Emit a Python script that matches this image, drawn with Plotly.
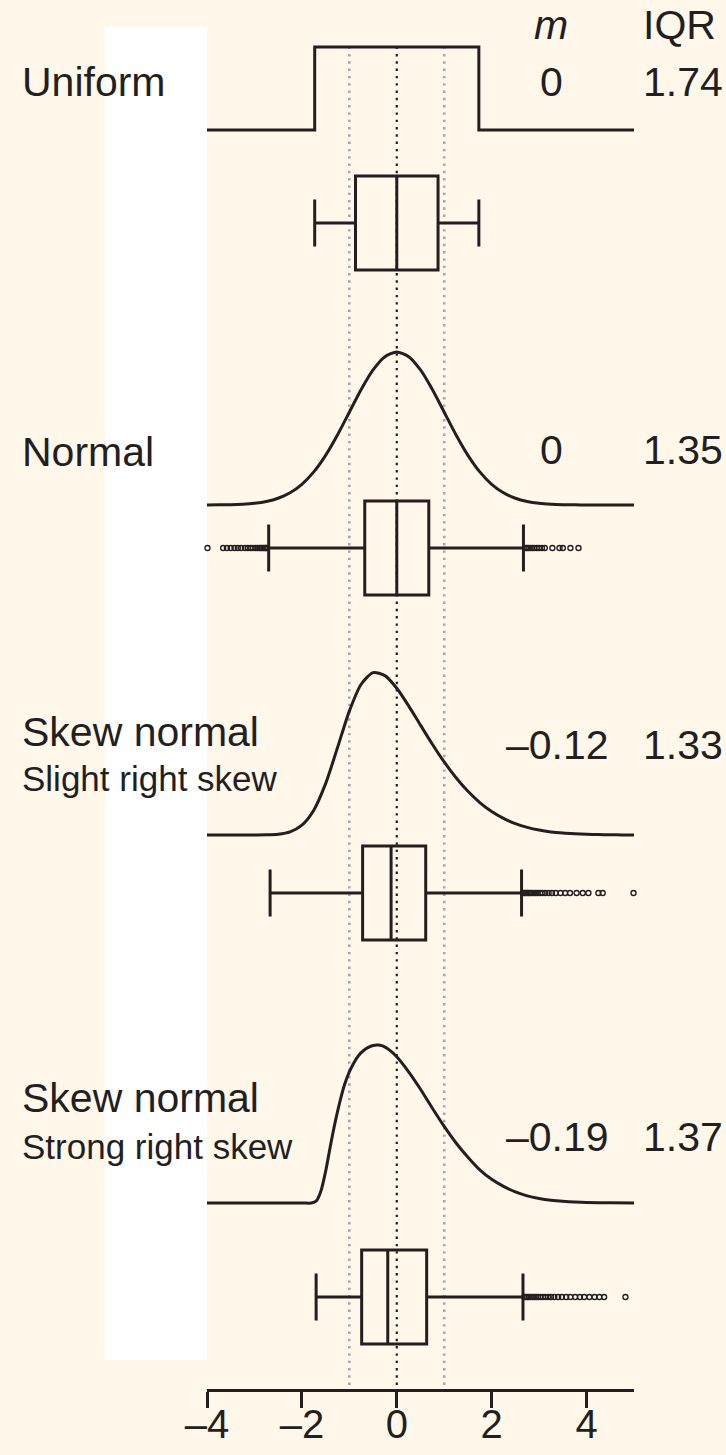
import plotly.graph_objects as go

W, H = 726, 1455
INK = "#231F20"
GREY = "#A7A9AC"
CREAM = "#FEF7EA"
FONT = "Liberation Sans, Arial, Helvetica, sans-serif"

# ---- data -------------------------------------------------------------
x_grid = [-4.0, -3.75, -3.5, -3.25, -3.0, -2.75, -2.5, -2.25, -2.0, -1.75,
          -1.5, -1.25, -1.0, -0.75, -0.5, -0.25, 0.0, 0.25, 0.5, 0.75,
          1.0, 1.25, 1.5, 1.75, 2.0, 2.25, 2.5, 2.75, 3.0, 3.25,
          3.5, 3.75, 4.0, 4.25, 4.5, 4.75, 5.0]

# densities, scaled so that each curve peaks at 1
uniform_x = [-4.0, -1.73, -1.73, 1.73, 1.73, 5.0]
uniform_d = [0.0, 0.0, 1.0, 1.0, 0.0, 0.0]

normal_d = [0.0003, 0.0009, 0.0022, 0.0051, 0.0111, 0.0228, 0.0439, 0.0796, 0.1353, 0.2163,
            0.3247, 0.4578, 0.6065, 0.7548, 0.8825, 0.9692, 1.0, 0.9692, 0.8825, 0.7548,
            0.6065, 0.4578, 0.3247, 0.2163, 0.1353, 0.0796, 0.0439, 0.0228, 0.0111, 0.0051,
            0.0022, 0.0009, 0.0003, 0.0001, 0.0, 0.0, 0.0]

slight_d = [0.0, 0.0, 0.0, 0.0, 0.0001, 0.0008, 0.0045, 0.019, 0.060, 0.152,
            0.315, 0.535, 0.760, 0.925, 0.996, 0.978, 0.900, 0.792, 0.674, 0.557,
            0.448, 0.351, 0.268, 0.199, 0.144, 0.1015, 0.0696, 0.0465, 0.0302, 0.0191,
            0.0118, 0.0071, 0.0041, 0.0024, 0.0013, 0.0007, 0.0004]

strong_x = [-4.0, -2.0, -1.8, -1.7, -1.6, -1.5, -1.4, -1.3, -1.2, -1.1,
            -1.0, -0.9, -0.8, -0.7, -0.6, -0.5, -0.4, -0.3, -0.2, -0.1,
            0.0, 0.25, 0.5, 0.75, 1.0, 1.25, 1.5, 1.75, 2.0, 2.25,
            2.5, 2.75, 3.0, 3.25, 3.5, 3.75, 4.0, 4.5, 5.0]
strong_d = [0.0, 0.0, 0.0, 0.012, 0.075, 0.20, 0.36, 0.51, 0.64, 0.75,
            0.83, 0.89, 0.935, 0.965, 0.985, 0.997, 1.0, 0.994, 0.978, 0.955,
            0.925, 0.83, 0.72, 0.60, 0.485, 0.38, 0.29, 0.21, 0.15, 0.105,
            0.07, 0.045, 0.029, 0.018, 0.011, 0.0065, 0.0038, 0.0012, 0.0004]

# box-plot summaries: q1, median, q3, lower whisker, upper whisker
uniform_box = [-0.87, 0.0, 0.87, -1.73, 1.73]
normal_box = [-0.675, 0.0, 0.675, -2.70, 2.67]
slight_box = [-0.72, -0.12, 0.61, -2.67, 2.63]
strong_box = [-0.74, -0.19, 0.63, -1.70, 2.66]

uniform_out = []
normal_out = [-3.99, -3.66, -3.58, -3.5, -3.42, -3.35, -3.28, -3.2, -3.14, -3.08, -3.03,
              -2.98, -2.94, -2.9, -2.87, -2.84, -2.81, -2.78, -2.76, -2.74,
              2.72, 2.75, 2.78, 2.82, 2.86, 2.9, 2.95, 3.0, 3.06, 3.12, 3.28, 3.43, 3.5, 3.66, 3.83]
slight_out = [2.66, 2.69, 2.72, 2.75, 2.78, 2.81, 2.85, 2.89, 2.93, 2.97, 3.02, 3.07, 3.13,
              3.2, 3.27, 3.35, 3.45, 3.55, 3.65, 3.79, 3.92, 4.04, 4.25, 4.34, 4.99]
strong_out = [2.69, 2.72, 2.75, 2.78, 2.82, 2.86, 2.9, 2.94, 2.98, 3.03, 3.08, 3.13,
              3.19, 3.25, 3.32, 3.4, 3.48, 3.57, 3.66, 3.76, 3.86, 3.95, 4.06, 4.17, 4.27, 4.37, 4.82]

names = ["Uniform", "Normal", "Skew normal", "Skew normal"]
subtitles = ["", "", "Slight right skew", "Strong right skew"]
m_labels = ["0", "0", "\u20130.12", "\u20130.19"]
iqr_labels = ["1.74", "1.35", "1.33", "1.37"]

tick_vals = [-4, -2, 0, 2, 4]
tick_text = ["\u20134", "\u20132", "0", "2", "4"]

# ---- layout geometry (pixels from the top of the page) ----------------
def py(px):
    return 1 - px / H

# density baseline / peak rows, box-plot centre rows
dens_rows = [(130, 47), (505, 352), (835, 672), (1203, 1045)]
box_rows = [223, 548, 893, 1297]
BOX_PX = 94          # box height in pixels (box width = 1 y-unit)
label_rows = [82, 452, 732, 1098]
sub_rows = [None, None, 778, 1146]
num_rows = [82, 450, 745, 1137]
M_COL, IQR_COL = 551, 641

fig = go.Figure()
layout_axes = {}

dens_sets = [(uniform_x, uniform_d, "linear"), (x_grid, normal_d, "spline"),
             (x_grid, slight_d, "spline"), (strong_x, strong_d, "spline")]
box_sets = [(uniform_box, uniform_out), (normal_box, normal_out),
            (slight_box, slight_out), (strong_box, strong_out)]

PAD = 0.08
for i in range(4):
    dy = 2 * i + 1
    by = 2 * i + 2
    dname = "y" if dy == 1 else f"y{dy}"
    bname = f"y{by}"
    xs, ds, shape = dens_sets[i]
    fig.add_trace(go.Scatter(x=xs, y=ds, mode="lines",
                             line=dict(color=INK, width=3, shape=shape, smoothing=0.7),
                             xaxis="x", yaxis=dname, hoverinfo="skip", showlegend=False))
    base, peak = dens_rows[i]
    h = base - peak
    layout_axes["yaxis" if dy == 1 else f"yaxis{dy}"] = dict(
        domain=[py(base + PAD * h), py(peak - PAD * h)], range=[-PAD, 1 + PAD],
        anchor="x", visible=False, fixedrange=True, automargin=False)

    stats, outs = box_sets[i]
    q1, med, q3, lo, hi = stats
    fig.add_trace(go.Box(orientation="h", y=[0], q1=[q1], median=[med], q3=[q3],
                         lowerfence=[lo], upperfence=[hi], width=1, whiskerwidth=0.5,
                         boxpoints=False, fillcolor="rgba(0,0,0,0)",
                         line=dict(color=INK, width=3),
                         xaxis="x", yaxis=bname, hoverinfo="skip", showlegend=False))
    if outs:
        fig.add_trace(go.Scatter(x=outs, y=[0] * len(outs), mode="markers",
                                 marker=dict(symbol="circle-open", size=5, color=INK,
                                             line=dict(width=1.4, color=INK)),
                                 xaxis="x", yaxis=bname, cliponaxis=False,
                                 hoverinfo="skip", showlegend=False))
    c = box_rows[i]
    layout_axes[f"yaxis{by}"] = dict(
        domain=[py(c + 0.8 * BOX_PX), py(c - 0.8 * BOX_PX)], range=[-0.8, 0.8],
        anchor="x", visible=False, fixedrange=True, automargin=False)

annotations = []
for i in range(4):
    annotations.append(dict(text=names[i], x=20 / W, y=py(label_rows[i]), xref="paper", yref="paper",
                            xanchor="left", yanchor="middle", showarrow=False,
                            font=dict(family=FONT, size=41, color=INK)))
    if subtitles[i]:
        annotations.append(dict(text=subtitles[i], x=20 / W, y=py(sub_rows[i]), xref="paper",
                                yref="paper", xanchor="left", yanchor="middle", showarrow=False,
                                font=dict(family=FONT, size=35, color=INK)))
    signed = m_labels[i] != "0"
    annotations.append(dict(text=m_labels[i], x=611 / W if signed else M_COL / W,
                            y=py(num_rows[i]), xref="paper", yref="paper",
                            xanchor="right" if signed else "center",
                            yanchor="middle", showarrow=False,
                            font=dict(family=FONT, size=41, color=INK)))
    annotations.append(dict(text=iqr_labels[i], x=IQR_COL / W, y=py(num_rows[i]), xref="paper",
                            yref="paper", xanchor="left", yanchor="middle", showarrow=False,
                            font=dict(family=FONT, size=41, color=INK)))

annotations.append(dict(text="<i>m</i>", x=M_COL / W, y=py(25), xref="paper", yref="paper",
                        xanchor="center", yanchor="middle", showarrow=False,
                        font=dict(family=FONT, size=41, color=INK)))
annotations.append(dict(text="IQR", x=IQR_COL / W, y=py(25), xref="paper", yref="paper",
                        xanchor="left", yanchor="middle", showarrow=False,
                        font=dict(family=FONT, size=41, color=INK)))

shapes = [
    dict(type="rect", xref="paper", yref="paper", x0=105 / W, x1=207 / W,
         y0=py(1360), y1=py(27), fillcolor="white", line=dict(width=0), layer="below"),
]
for xv, col, wd in [(-1, GREY, 2.6), (1, GREY, 2.6), (0, INK, 2.2)]:
    shapes.append(dict(type="line", xref="x", yref="paper", x0=xv, x1=xv,
                       y0=py(1385), y1=py(47), line=dict(color=col, width=wd, dash="2.4px,4.9px"),
                       layer="below"))

fig.update_layout(
    template="none",
    width=W, height=H, autosize=False,
    margin=dict(l=0, r=0, t=0, b=0, pad=0),
    paper_bgcolor=CREAM, plot_bgcolor="rgba(0,0,0,0)",
    showlegend=False,
    xaxis=dict(domain=[207 / W, 634 / W], range=[-4, 5], anchor="free", position=py(1390),
               showline=True, linewidth=3, linecolor=INK, ticks="outside", ticklen=16,
               tickwidth=3, tickcolor=INK, tickvals=tick_vals, ticktext=tick_text,
               ticklabelstandoff=-18,
               tickfont=dict(family=FONT, size=40, color=INK), showgrid=False,
               zeroline=False, fixedrange=True, automargin=False),
    annotations=annotations,
    shapes=shapes,
    **layout_axes,
)

fig.write_html("out.html")
